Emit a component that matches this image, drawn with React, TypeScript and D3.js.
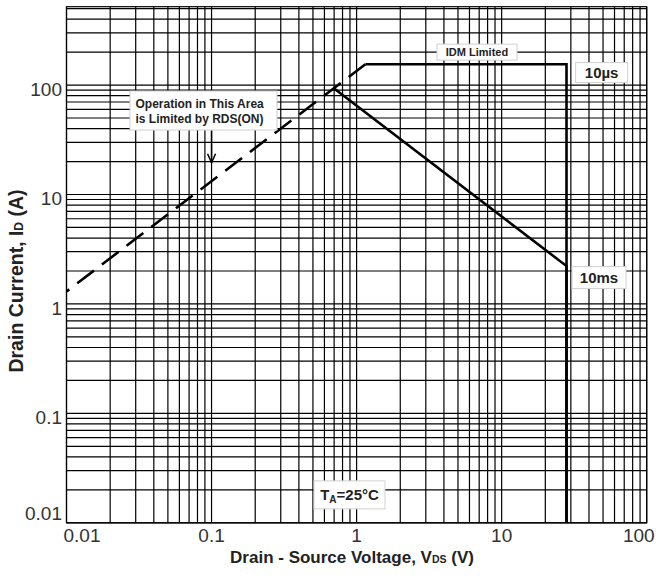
import React from 'react';
import * as d3 from 'd3';

const W = 656;
const H = 578;
const margin = { top: 6.7, right: 9.3, bottom: 55.2, left: 66.5 };

// axis ticks
const xTickValues = [0.01, 0.1, 1, 10, 100];
const xTickLabels = ['0.01', '0.1', '1', '10', '100'];
const yTickValues = [0.01, 0.1, 1, 10, 100];
const yTickLabels = ['0.01', '0.1', '1', '10', '100'];

// RDS(ON) limit (dashed), drawn from the corner back to the left edge
const rdsV = [1.15, 0.01];
const rdsI = [155, 1.3];

// 10 µs pulse boundary
const us10V = [1.15, 28, 28];
const us10I = [155, 155, 0.01];

// 10 ms pulse boundary
const ms10V = [0.7, 28, 28];
const ms10I = [93, 2.22, 0.01];

// labels: text, centre in data coords
const boxText = ['IDM Limited', '10µs', '10ms'];
const boxV = [6.76, 48.9, 46.9];
const boxI = [200, 130, 1.74];

const FONT = '"Liberation Sans", Arial, Helvetica, sans-serif';

export default function App() {
  const x = d3.scaleLog().domain([0.01, 100]).range([margin.left, W - margin.right]);
  const y = d3.scaleLog().domain([0.01, 520]).range([H - margin.bottom, margin.top]);

  const [x0, x1] = x.range();
  const [y0, y1] = y.range();

  // log grid, every k * 10^n
  const gridX: number[] = [];
  const gridY: number[] = [];
  for (let e = -2; e <= 2; e++) {
    for (let k = 1; k <= 9; k++) {
      const v = k * Math.pow(10, e);
      if (v >= 0.01 && v <= 100) gridX.push(v);
      if (v >= 0.01 && v <= 520) gridY.push(v);
    }
  }

  const path = (vs: number[], is: number[]) =>
    d3.line<number>().x((d) => x(d)).y((_, i) => y(is[i]))(vs) ?? '';

  const boxW = [80, 52, 54];
  const boxH = [16, 20, 22];
  const boxFont = [11, 15, 15];

  // RDS annotation
  const opsCx = x(0.088);
  const opsCy = y(58.5);
  const arrowX = x(0.1);
  const arrowTop = y(38);
  const arrowBot = y(19.5);

  // temperature label
  const taCx = x(0.893);
  const taCy = y(0.018);

  return (
    <div style={{ position: 'absolute', left: 0, top: 0 }}>
      <svg width={W} height={H} style={{ display: 'block', background: '#fff' }} fontFamily={FONT}>
        {/* grid */}
        <g stroke="#000" strokeWidth={1.2}>
          {gridX.map((v) => (
            <line key={'gx' + v} x1={x(v)} x2={x(v)} y1={y0} y2={y1} />
          ))}
          {gridY.map((v) => (
            <line key={'gy' + v} x1={x0} x2={x1} y1={y(v)} y2={y(v)} />
          ))}
          <rect x={x0} y={y1} width={x1 - x0} height={y0 - y1} fill="none" />
        </g>

        {/* curves */}
        <path d={path(rdsV, rdsI)} fill="none" stroke="#000" strokeWidth={2.6} strokeDasharray="21 10" />
        <path d={path(us10V, us10I)} fill="none" stroke="#000" strokeWidth={2.6} strokeLinejoin="miter" />
        <path d={path(ms10V, ms10I)} fill="none" stroke="#000" strokeWidth={2.6} strokeLinejoin="miter" />

        {/* RDS(ON) note */}
        <g>
          <rect x={opsCx - 73.5} y={opsCy - 19.5} width={147} height={39} fill="#fff" stroke="#d0d0d0" />
          <text x={opsCx - 68} y={opsCy - 3} fontSize={12} fontWeight="bold" fill="#222">Operation in This Area</text>
          <text x={opsCx - 68} y={opsCy + 12} fontSize={12} fontWeight="bold" fill="#222">is Limited by RDS(ON)</text>
          <line x1={arrowX} x2={arrowX} y1={arrowTop} y2={arrowBot} stroke="#000" strokeWidth={1.5} />
          <polyline
            points={`${arrowX - 4},${arrowBot - 9} ${arrowX},${arrowBot} ${arrowX + 4},${arrowBot - 9}`}
            fill="none" stroke="#000" strokeWidth={1.5} />
        </g>

        {/* curve labels */}
        {boxText.map((t, i) => (
          <g key={t}>
            <rect x={x(boxV[i]) - boxW[i] / 2} y={y(boxI[i]) - boxH[i] / 2} width={boxW[i]} height={boxH[i]}
              fill="#fff" stroke="#d0d0d0" />
            <text x={x(boxV[i])} y={y(boxI[i]) + boxFont[i] * 0.36} textAnchor="middle"
              fontSize={boxFont[i]} fontWeight="bold" fill="#222">{t}</text>
          </g>
        ))}

        {/* TA */}
        <rect x={taCx - 35.5} y={taCy - 14} width={71} height={28} fill="#fff" stroke="#d0d0d0" />
        <text x={taCx} y={taCy + 5} textAnchor="middle" fontSize={15} fontWeight="bold" fill="#222">
          T<tspan fontSize={10} dy={3}>A</tspan><tspan dy={-3}>=25°C</tspan>
        </text>

        {/* tick labels */}
        {xTickValues.map((v, i) => {
          const last = i === xTickValues.length - 1;
          const first = i === 0;
          return (
            <text key={'xt' + v} x={first ? x(v) - 3 : last ? x(v) + 8 : x(v)} y={542}
              textAnchor={first ? 'start' : last ? 'end' : 'middle'} fontSize={19} fill="#333">
              {xTickLabels[i]}
            </text>
          );
        })}
        {yTickValues.map((v, i) => (
          <text key={'yt' + v} x={62} y={i === 0 ? y(v) - 3 : y(v) + 11} textAnchor="end" fontSize={19} fill="#333">
            {yTickLabels[i]}
          </text>
        ))}

        {/* axis titles */}
        <text x={352} y={563} textAnchor="middle" fontSize={17} fontWeight="bold" fill="#222">
          Drain - Source Voltage, V<tspan fontSize={10.5}>DS</tspan> (V)
        </text>
        <text transform={`translate(23,281) rotate(-90)`} textAnchor="middle" fontSize={19.5} fontWeight="bold" fill="#222">
          Drain Current, I<tspan fontSize={12}>D</tspan> (A)
        </text>
      </svg>
    </div>
  );
}
